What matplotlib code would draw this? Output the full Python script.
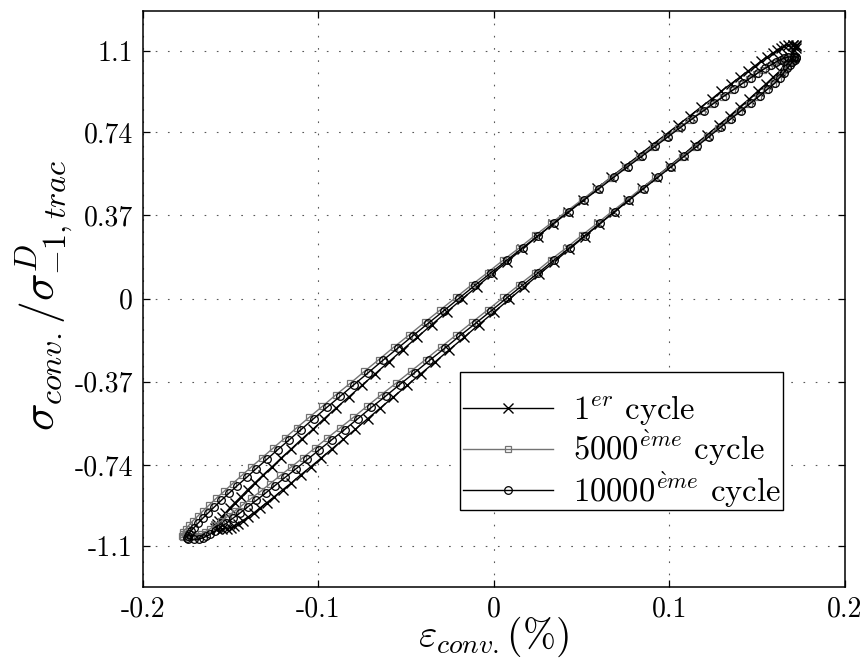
import numpy as np
import matplotlib
matplotlib.use("Agg")
import matplotlib.pyplot as plt
from matplotlib.patches import Rectangle

plt.rcParams['font.family'] = ['cmr10', 'DejaVu Serif']
plt.rcParams['mathtext.fontset'] = 'cm'
plt.rcParams['axes.unicode_minus'] = False

# ---- data ----
# stress levels (normalised), from the top tip to the bottom tip of each loop
stress_c1 = [1.128, 1.127, 1.122, 1.115, 1.104, 1.091, 1.075, 1.057, 1.035, 1.011,
             0.984, 0.954, 0.923, 0.888, 0.852, 0.813, 0.772, 0.729, 0.685, 0.638,
             0.590, 0.541, 0.490, 0.438, 0.385, 0.331, 0.276, 0.220, 0.164, 0.108,
             0.052, -0.004, -0.060, -0.116, -0.172, -0.227, -0.281, -0.334, -0.386, -0.437,
             -0.486, -0.534, -0.581, -0.625, -0.668, -0.709, -0.748, -0.784, -0.819, -0.850,
             -0.880, -0.907, -0.931, -0.953, -0.971, -0.987, -1.000, -1.011, -1.018, -1.023,
             -1.024]
strain_c1_unload = [0.1706, 0.1676, 0.1657, 0.1640, 0.1616, 0.1590, 0.1560, 0.1526, 0.1489, 0.1448,
                    0.1402, 0.1351, 0.1298, 0.1243, 0.1182, 0.1119, 0.1051, 0.0980, 0.0906, 0.0830,
                    0.0751, 0.0671, 0.0589, 0.0507, 0.0421, 0.0336, 0.0250, 0.0163, 0.0076, -0.0011,
                    -0.0097, -0.0183, -0.0268, -0.0353, -0.0436, -0.0518, -0.0597, -0.0675, -0.0751, -0.0825,
                    -0.0897, -0.0966, -0.1030, -0.1094, -0.1153, -0.1211, -0.1263, -0.1314, -0.1360, -0.1402,
                    -0.1439, -0.1474, -0.1504, -0.1529, -0.1550, -0.1567, -0.1579, -0.1584, -0.1586, -0.1579,
                    -0.1550]
strain_c1_reload = [0.1706, 0.1723, 0.1723, 0.1720, 0.1709, 0.1700, 0.1688, 0.1672, 0.1652, 0.1630,
                    0.1592, 0.1551, 0.1506, 0.1457, 0.1402, 0.1347, 0.1283, 0.1218, 0.1148, 0.1078,
                    0.1003, 0.0925, 0.0847, 0.0767, 0.0685, 0.0602, 0.0518, 0.0431, 0.0346, 0.0259,
                    0.0173, 0.0087, 0.0002, -0.0085, -0.0168, -0.0252, -0.0333, -0.0415, -0.0493, -0.0571,
                    -0.0645, -0.0718, -0.0788, -0.0856, -0.0921, -0.0983, -0.1043, -0.1100, -0.1152, -0.1202,
                    -0.1249, -0.1292, -0.1332, -0.1367, -0.1400, -0.1429, -0.1455, -0.1478, -0.1498, -0.1517,
                    -0.1550]

stress_c5000 = [1.070, 1.068, 1.064, 1.057, 1.047, 1.034, 1.018, 0.999, 0.978, 0.954,
                0.927, 0.898, 0.867, 0.833, 0.796, 0.758, 0.718, 0.675, 0.631, 0.585,
                0.538, 0.489, 0.438, 0.387, 0.334, 0.281, 0.226, 0.172, 0.116, 0.061,
                0.005, -0.051, -0.106, -0.162, -0.216, -0.271, -0.324, -0.377, -0.428, -0.479,
                -0.528, -0.575, -0.621, -0.665, -0.708, -0.748, -0.786, -0.823, -0.857, -0.888,
                -0.917, -0.944, -0.968, -0.989, -1.008, -1.024, -1.037, -1.047, -1.054, -1.059,
                -1.060]
strain_c5000_unload = [0.1700, 0.1667, 0.1646, 0.1625, 0.1598, 0.1568, 0.1535, 0.1497, 0.1455, 0.1410,
                       0.1360, 0.1305, 0.1246, 0.1186, 0.1121, 0.1052, 0.0982, 0.0907, 0.0831, 0.0751,
                       0.0669, 0.0586, 0.0501, 0.0414, 0.0325, 0.0236, 0.0147, 0.0056, -0.0034, -0.0125,
                       -0.0215, -0.0305, -0.0394, -0.0482, -0.0569, -0.0654, -0.0737, -0.0818, -0.0899, -0.0976,
                       -0.1051, -0.1123, -0.1191, -0.1257, -0.1320, -0.1380, -0.1435, -0.1488, -0.1536, -0.1581,
                       -0.1620, -0.1656, -0.1687, -0.1715, -0.1737, -0.1754, -0.1768, -0.1773, -0.1776, -0.1769,
                       -0.1740]
strain_c5000_reload = [0.1700, 0.1714, 0.1712, 0.1705, 0.1691, 0.1678, 0.1663, 0.1643, 0.1618, 0.1592,
                       0.1550, 0.1505, 0.1454, 0.1400, 0.1341, 0.1280, 0.1214, 0.1145, 0.1073, 0.0999,
                       0.0921, 0.0840, 0.0759, 0.0674, 0.0589, 0.0502, 0.0415, 0.0324, 0.0236, 0.0145,
                       0.0055, -0.0035, -0.0124, -0.0214, -0.0301, -0.0388, -0.0473, -0.0558, -0.0641, -0.0722,
                       -0.0799, -0.0875, -0.0949, -0.1019, -0.1088, -0.1152, -0.1215, -0.1274, -0.1328, -0.1381,
                       -0.1430, -0.1474, -0.1515, -0.1553, -0.1587, -0.1616, -0.1644, -0.1667, -0.1688, -0.1707,
                       -0.1740]

stress_c10000 = [1.075, 1.074, 1.069, 1.062, 1.052, 1.038, 1.023, 1.004, 0.982, 0.958,
                 0.931, 0.902, 0.870, 0.836, 0.800, 0.761, 0.720, 0.677, 0.633, 0.587,
                 0.539, 0.489, 0.439, 0.387, 0.334, 0.280, 0.226, 0.170, 0.115, 0.059,
                 0.003, -0.054, -0.110, -0.165, -0.221, -0.275, -0.329, -0.382, -0.434, -0.484,
                 -0.534, -0.582, -0.628, -0.672, -0.715, -0.756, -0.795, -0.831, -0.865, -0.897,
                 -0.926, -0.953, -0.977, -0.999, -1.018, -1.033, -1.047, -1.057, -1.064, -1.069,
                 -1.070]
strain_c10000_unload = [0.1710, 0.1677, 0.1656, 0.1635, 0.1608, 0.1579, 0.1545, 0.1507, 0.1466, 0.1421,
                        0.1371, 0.1316, 0.1258, 0.1198, 0.1134, 0.1065, 0.0995, 0.0921, 0.0845, 0.0765,
                        0.0684, 0.0601, 0.0516, 0.0431, 0.0342, 0.0254, 0.0165, 0.0074, -0.0015, -0.0106,
                        -0.0195, -0.0284, -0.0373, -0.0460, -0.0547, -0.0632, -0.0714, -0.0795, -0.0874, -0.0951,
                        -0.1026, -0.1097, -0.1165, -0.1231, -0.1293, -0.1353, -0.1408, -0.1460, -0.1508, -0.1552,
                        -0.1591, -0.1627, -0.1658, -0.1685, -0.1707, -0.1725, -0.1738, -0.1743, -0.1746, -0.1739,
                        -0.1710]
strain_c10000_reload = [0.1710, 0.1724, 0.1722, 0.1715, 0.1701, 0.1689, 0.1673, 0.1653, 0.1629, 0.1603,
                        0.1561, 0.1516, 0.1466, 0.1412, 0.1354, 0.1293, 0.1227, 0.1159, 0.1087, 0.1013,
                        0.0936, 0.0855, 0.0774, 0.0691, 0.0606, 0.0520, 0.0433, 0.0342, 0.0255, 0.0164,
                        0.0075, -0.0014, -0.0103, -0.0192, -0.0279, -0.0366, -0.0450, -0.0535, -0.0616, -0.0697,
                        -0.0774, -0.0849, -0.0923, -0.0993, -0.1061, -0.1125, -0.1188, -0.1246, -0.1300, -0.1352,
                        -0.1401, -0.1445, -0.1486, -0.1523, -0.1557, -0.1587, -0.1614, -0.1637, -0.1658, -0.1677,
                        -0.1710]

labels = [r'$1^{er}$ cycle', r'$5000^{\grave{e}me}$ cycle', r'$10000^{\grave{e}me}$ cycle']
xticks = [-0.2, -0.1, 0, 0.1, 0.2]
xticklabels = ['-0.2', '-0.1', '0', '0.1', '0.2']
yticks = [-1.1, -0.74, -0.37, 0, 0.37, 0.74, 1.1]
yticklabels = ['-1.1', '-0.74', '-0.37', '0', '0.37', '0.74', '1.1']


def closed_loop(stress, unload, reload):
    x = list(unload) + list(reload[::-1][1:])
    y = list(stress) + list(stress[::-1][1:])
    return x, y


fig = plt.figure(figsize=(8.61, 6.59), dpi=100)
ax = fig.add_axes([0.1657, 0.110, 0.8153, 0.8738])

x1, y1 = closed_loop(stress_c1, strain_c1_unload, strain_c1_reload)
x2, y2 = closed_loop(stress_c5000, strain_c5000_unload, strain_c5000_reload)
x3, y3 = closed_loop(stress_c10000, strain_c10000_unload, strain_c10000_reload)

ax.plot(x1, y1, color='black', lw=1.0, marker='x', ms=7, mew=1.0, label=labels[0])
ax.plot(x2, y2, color='0.45', lw=1.0, marker='s', ms=4.8, mew=0.9, mfc='none', label=labels[1])
ax.plot(x3, y3, color='black', lw=1.0, marker='o', ms=5.5, mew=0.9, mfc='none', label=labels[2])

ax.set_xlim(-0.2, 0.2)
ax.set_ylim(-1.28, 1.28)
ax.set_xticks(xticks)
ax.set_xticklabels(xticklabels)
ax.set_yticks(yticks)
ax.set_yticklabels(yticklabels)
ax.tick_params(direction='in', length=5, width=0.9, top=True, right=True,
               labelsize=20, pad=7)
for sp in ax.spines.values():
    sp.set_linewidth(1.1)
ax.grid(True, color='0.35', lw=0.8, ls=(0, (1.5, 9.5)))
ax.set_axisbelow(True)

ax.set_xlabel(r'$\varepsilon_{conv.}(\%)$', fontsize=28.5)
ax.xaxis.set_label_coords(0.5, -0.087)
ax.xaxis.label.set_verticalalignment('center')
ax.set_ylabel(r'$\sigma_{conv.}/\sigma^{D}_{-1,trac}$', fontsize=33)
ax.yaxis.set_label_coords(-0.14, 0.506)
ax.yaxis.label.set_verticalalignment('center')

# legend box (frame drawn separately so the rows sit as in the reference)
ax.add_patch(Rectangle((0.4518, 0.1329), 0.4599, 0.2396, transform=ax.transAxes,
                       facecolor='white', edgecolor='black', lw=1.0, zorder=4.5))
leg = ax.legend(loc='upper left', bbox_to_anchor=(0.4561, 0.3361), fontsize=23.5,
                numpoints=1, handlelength=2.76, handletextpad=0.61, borderpad=0,
                labelspacing=0.03, frameon=False, borderaxespad=0)
leg.set_zorder(5)

fig.savefig('out.png', dpi=100)
